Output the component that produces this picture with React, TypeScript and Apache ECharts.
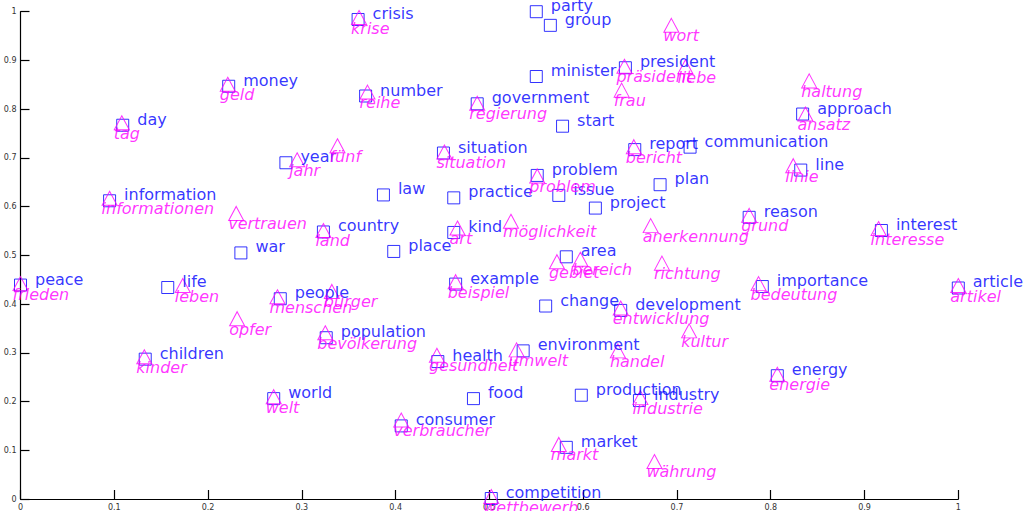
import React, { useEffect, useRef } from "react";
import * as echarts from "echarts";

// English words (blue squares)
const englishWords = [
  "crisis", "party", "group", "minister", "president", "number", "government", "start",
  "situation", "approach", "communication", "report", "line", "plan", "problem", "issue",
  "law", "practice", "project", "information", "year", "money", "day", "country",
  "kind", "reason", "interest", "war", "place", "area", "peace", "life",
  "people", "example", "change", "development", "importance", "article", "population", "children",
  "health", "environment", "world", "food", "production", "industry", "energy", "consumer",
  "market", "competition",
];
const englishX = [
  0.360, 0.550, 0.565, 0.550, 0.645, 0.368, 0.487, 0.578,
  0.451, 0.834, 0.714, 0.655, 0.832, 0.682, 0.551, 0.574,
  0.387, 0.462, 0.613, 0.095, 0.283, 0.222, 0.109, 0.323,
  0.462, 0.777, 0.918, 0.235, 0.398, 0.582, 0.000, 0.157,
  0.277, 0.464, 0.560, 0.640, 0.791, 1.000, 0.326, 0.133,
  0.445, 0.536, 0.270, 0.483, 0.598, 0.660, 0.807, 0.406,
  0.582, 0.502,
];
const englishY = [
  0.984, 1.000, 0.972, 0.867, 0.885, 0.827, 0.811, 0.765,
  0.710, 0.790, 0.722, 0.717, 0.675, 0.645, 0.664, 0.623,
  0.624, 0.618, 0.597, 0.612, 0.690, 0.847, 0.767, 0.548,
  0.547, 0.578, 0.551, 0.505, 0.508, 0.497, 0.439, 0.434,
  0.411, 0.441, 0.396, 0.387, 0.436, 0.433, 0.331, 0.287,
  0.282, 0.304, 0.206, 0.206, 0.213, 0.202, 0.253, 0.150,
  0.106, 0.001,
];

// German words (magenta triangles)
const germanWords = [
  "krise", "wort", "präsident", "liebe", "frau", "reihe", "regierung", "situation",
  "fünf", "haltung", "ansatz", "bericht", "linie", "problem", "informationen", "vertrauen",
  "jahr", "geld", "tag", "land", "art", "möglichkeit", "anerkennung", "grund",
  "interesse", "gebiet", "bereich", "richtung", "frieden", "leben", "menschen", "bürger",
  "beispiel", "entwicklung", "bedeutung", "artikel", "opfer", "bevölkerung", "kultur", "kinder",
  "gesundheit", "umwelt", "handel", "welt", "industrie", "energie", "verbraucher", "markt",
  "währung", "wettbewerb",
];
const germanX = [
  0.361, 0.694, 0.644, 0.709, 0.641, 0.370, 0.487, 0.452,
  0.338, 0.841, 0.837, 0.654, 0.824, 0.551, 0.095, 0.230,
  0.295, 0.221, 0.108, 0.323, 0.466, 0.523, 0.672, 0.777,
  0.915, 0.572, 0.597, 0.684, 0.000, 0.173, 0.274, 0.332,
  0.464, 0.640, 0.787, 1.000, 0.231, 0.325, 0.713, 0.132,
  0.444, 0.529, 0.637, 0.270, 0.661, 0.807, 0.406, 0.574,
  0.676, 0.502,
];
const germanY = [
  0.988, 0.972, 0.888, 0.887, 0.839, 0.835, 0.812, 0.712,
  0.725, 0.858, 0.790, 0.723, 0.684, 0.663, 0.617, 0.586,
  0.696, 0.851, 0.772, 0.551, 0.556, 0.570, 0.561, 0.582,
  0.555, 0.487, 0.492, 0.484, 0.442, 0.438, 0.415, 0.426,
  0.446, 0.392, 0.442, 0.438, 0.370, 0.341, 0.345, 0.292,
  0.295, 0.306, 0.304, 0.210, 0.208, 0.256, 0.162, 0.112,
  0.077, 0.005,
];

const xTicks = [0, 0.1, 0.2, 0.3, 0.4, 0.5, 0.6, 0.7, 0.8, 0.9, 1];

const BLUE = "#0000ff";
const MAGENTA = "#ff00ff";
const FONT = "DejaVu Sans";

export default function App() {
  const ref = useRef<HTMLDivElement>(null);

  useEffect(() => {
    if (!ref.current) return;
    const chart = echarts.init(ref.current, null, { renderer: "svg" });
    const fmt = (v: number) => String(+Number(v).toFixed(1));
    const axisCommon = {
      type: "value" as const,
      min: xTicks[0],
      max: xTicks[xTicks.length - 1],
      interval: 0.1,
      splitLine: { show: false },
      axisLine: { show: true, lineStyle: { color: "#000", width: 1.2 } },
      axisTick: { show: true, inside: true, length: 9, lineStyle: { color: "#000", width: 1.2 } },
      axisLabel: {
        fontSize: 8,
        color: "#333",
        fontFamily: FONT,
        margin: 4,
        showMinLabel: true,
        showMaxLabel: true,
        hideOverlap: false,
        formatter: fmt,
      },
    };
    chart.setOption({
      animation: false,
      backgroundColor: "#fff",
      grid: { left: 20.5, right: 66.7, top: 11.7, bottom: 11.7, containLabel: false },
      xAxis: { ...axisCommon },
      yAxis: { ...axisCommon },
      series: [
        {
          type: "scatter",
          name: "english",
          symbol: "rect",
          symbolSize: 12,
          clip: false,
          itemStyle: { color: "transparent", borderColor: BLUE, borderWidth: 1 },
          label: {
            show: true,
            position: "right",
            distance: 8,
            offset: [0, -6],
            formatter: "{b}",
            color: BLUE,
            fontSize: 16,
            fontFamily: FONT,
          },
          emphasis: { disabled: true },
          data: englishWords.map((w, i) => ({ name: w, value: [englishX[i], englishY[i]] })),
        },
        {
          type: "scatter",
          name: "german",
          symbol: "triangle",
          symbolSize: [15, 14],
          clip: false,
          itemStyle: { color: "transparent", borderColor: MAGENTA, borderWidth: 1 },
          label: {
            show: true,
            position: "inside",
            align: "left",
            verticalAlign: "middle",
            offset: [-8, 10.5],
            formatter: "{b}",
            color: MAGENTA,
            fontSize: 16,
            fontStyle: "italic",
            fontFamily: FONT,
          },
          emphasis: { disabled: true },
          data: germanWords.map((w, i) => ({ name: w, value: [germanX[i], germanY[i]] })),
        },
      ],
    });
    return () => chart.dispose();
  }, []);

  return (
    <div
      ref={ref}
      style={{ position: "absolute", left: 0, top: 0, width: 1025, height: 511, background: "#fff" }}
    />
  );
}
